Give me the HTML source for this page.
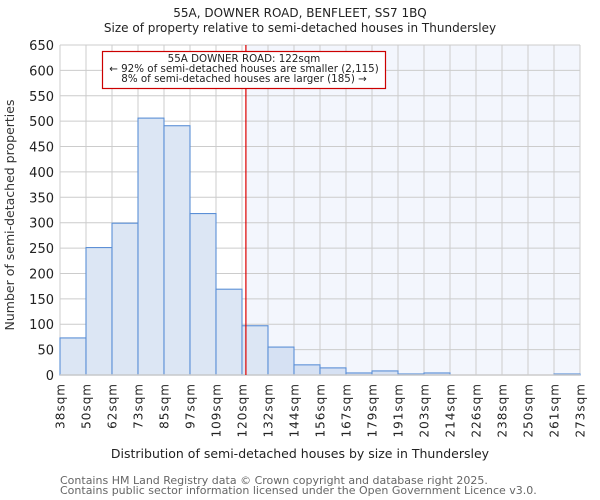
<!DOCTYPE html>
<html><head><meta charset="utf-8"><style>
body{margin:0;background:#fff;}
svg{display:block;font-family:"DejaVu Sans","Liberation Sans",sans-serif;}
</style></head><body>
<svg id="c" width="600" height="500">
<text x="300" y="17" text-anchor="middle" font-size="12" fill="#222">55A, DOWNER ROAD, BENFLEET, SS7 1BQ</text>
<text x="300" y="32" text-anchor="middle" font-size="12" fill="#222">Size of property relative to semi-detached houses in Thundersley</text>
<g id="plot"></g>
<text x="300" y="458" text-anchor="middle" font-size="12.5" fill="#222">Distribution of semi-detached houses by size in Thundersley</text>
<text transform="translate(14,215) rotate(-90)" text-anchor="middle" font-size="12.5" fill="#333">Number of semi-detached properties</text>
<text x="60" y="484" font-size="11" fill="#666">Contains HM Land Registry data © Crown copyright and database right 2025.</text>
<text x="60" y="494" font-size="11" fill="#666">Contains public sector information licensed under the Open Government Licence v3.0.</text>
</svg>
<script>
const binLabels=["38sqm","50sqm","62sqm","73sqm","85sqm","97sqm","109sqm","120sqm","132sqm","144sqm","156sqm","167sqm","179sqm","191sqm","203sqm","214sqm","226sqm","238sqm","250sqm","261sqm","273sqm"];
const counts=[73,251,299,506,491,318,169,97,55,20,14,4,8,2,4,0,0,0,0,2];
const yTicks=[0,50,100,150,200,250,300,350,400,450,500,550,600,650];
const markerIndex=7.15;
const NS="http://www.w3.org/2000/svg";
const L=60,R=580,T=45,B=375,yMax=650;
const g=document.getElementById('plot');
const bw=(R-L)/counts.length;
const xs=i=>L+i*bw;
const ys=v=>B-(v/yMax)*(B-T);
function mk(t,a){const e=document.createElementNS(NS,t);for(const k in a)e.setAttribute(k,a[k]);g.appendChild(e);return e;}
const mx=xs(markerIndex);
let e=mk('rect',{x:mx,y:T,width:R-mx,height:B-T,fill:'#f3f6fd'});


yTicks.forEach(v=>{
 let l=mk('line',{x1:L,x2:R,y1:ys(v),y2:ys(v),stroke:'#ccc','stroke-width':1});
 
 
 let t=mk('text',{x:L-6,y:ys(v)+5,'text-anchor':'end','font-size':13,fill:'#222'});
 t.textContent=v;
 
 
});
binLabels.forEach((s,i)=>{
 let l=mk('line',{x1:xs(i),x2:xs(i),y1:T,y2:B,stroke:'#ccc','stroke-width':1});
 
 
 let t=mk('text',{transform:`translate(${xs(i)+4.5},383) rotate(-90)`,'text-anchor':'end','font-size':12,'letter-spacing':'1',fill:'#222'});
 t.textContent=s;
 
 
});
counts.forEach((v,i)=>{
 if(v<=0)return;
 let r=mk('rect',{x:xs(i),y:ys(v),width:bw,height:B-ys(v),fill:i>=8?'#d6e1f3':'#dce6f4',stroke:'#5b8fd6','stroke-width':1.1});
 
 
});
e=mk('line',{x1:L,x2:R,y1:B,y2:B,stroke:'#ccc','stroke-width':1.5});


e=mk('line',{x1:mx,x2:mx,y1:T,y2:B,stroke:'#d00','stroke-width':1.2});


e=mk('rect',{x:102.5,y:51.5,width:283,height:37,fill:'#fff',stroke:'#c00','stroke-width':1.2});


[["55A DOWNER ROAD: 122sqm",62],["← 92% of semi-detached houses are smaller (2,115)",72],["8% of semi-detached houses are larger (185) →",82]].forEach(([s,y])=>{
 let t=mk('text',{x:244,y:y,'text-anchor':'middle','font-size':10.3,fill:'#222'});
 t.textContent=s;
 
 
});
</script>
</body></html>
